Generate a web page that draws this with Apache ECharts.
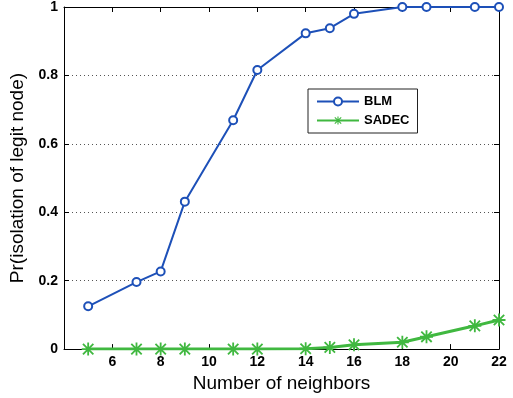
<!DOCTYPE html>
<html>
<head>
<meta charset="utf-8">
<script src="https://cdn.jsdelivr.net/npm/echarts@6/dist/echarts.min.js"></script>
<style>
  html, body { margin: 0; padding: 0; background: #ffffff; }
  #chart { width: 513px; height: 398px; }
</style>
</head>
<body>
<div id="chart"></div>
<script>
// Number of neighbors sampled
const neighbors = [5, 7, 8, 9, 11, 12, 14, 15, 16, 18, 19, 21, 22];
// Probability that a legitimate node is isolated
const blm   = [0.125, 0.196, 0.227, 0.431, 0.669, 0.816, 0.923, 0.938, 0.98, 1.0, 1.0, 1.0, 1.0];
const sadec = [0, 0, 0, 0, 0, 0, 0.001, 0.005, 0.0125, 0.02, 0.036, 0.068, 0.085];
const xTicks = [6, 8, 10, 12, 14, 16, 18, 20, 22];
const yTicks = [0, 0.2, 0.4, 0.6, 0.8, 1];

const pairs = (xs, ys) => xs.map((x, i) => [x, ys[i]]);

// asterisk marker: plus and cross bars
const asterisk = 'path://M4.3 0L5.7 0L5.7 10L4.3 10Z M0 4.3L10 4.3L10 5.7L0 5.7Z ' +
  'M0.5 1.5L1.5 0.5L9.5 8.5L8.5 9.5Z M8.5 0.5L9.5 1.5L1.5 9.5L0.5 8.5Z';

const family = 'Liberation Sans, Arial, sans-serif';
const tickFont = { fontFamily: family, fontWeight: 'bold', fontSize: 14, color: '#000' };

const chart = echarts.init(document.getElementById('chart'));
chart.setOption({
  animation: false,
  backgroundColor: '#ffffff',
  grid: { left: 64, right: 14, top: 7, bottom: 48, show: false },
  legend: {
    left: 308, top: 89, orient: 'vertical',
    width: 103,
    padding: [6, 8, 6, 8],
    itemGap: 6,
    itemWidth: 42, itemHeight: 10,
    borderColor: '#222', borderWidth: 1,
    backgroundColor: '#ffffff',
    textStyle: { fontFamily: family, fontWeight: 'bold', fontSize: 13, color: '#000' },
    data: ['BLM', 'SADEC']
  },
  xAxis: [{
    type: 'value', min: 4, max: 22, interval: 2,
    name: 'Number of neighbors', nameLocation: 'middle', nameGap: 23,
    nameTextStyle: { fontFamily: family, fontSize: 19, color: '#000' },
    axisLine: { show: true, onZero: false, lineStyle: { color: '#000', width: 1 } },
    axisTick: { show: true, inside: true, length: 5, lineStyle: { color: '#000' } },
    axisLabel: Object.assign({ margin: 6, formatter: v => xTicks.includes(v) ? String(v) : '' }, tickFont),
    splitLine: { show: false }
  }, {
    type: 'value', min: 4, max: 22, interval: 2, position: 'top',
    axisLine: { show: true, onZero: false, lineStyle: { color: '#000', width: 1 } },
    axisTick: { show: true, inside: true, length: 5, lineStyle: { color: '#000' } },
    axisLabel: { show: false },
    splitLine: { show: false }
  }],
  yAxis: [{
    type: 'value', min: 0, max: 1, interval: 0.2,
    name: 'Pr(isolation of legit node)', nameLocation: 'middle', nameGap: 25,
    nameTextStyle: { fontFamily: family, fontSize: 19, color: '#000' },
    axisLine: { show: true, onZero: false, lineStyle: { color: '#000', width: 1 } },
    axisTick: { show: true, inside: true, length: 5, lineStyle: { color: '#000' } },
    axisLabel: Object.assign({ margin: 6, formatter: v => {
      const t = yTicks.find(y => Math.abs(y - v) < 1e-9);
      return t === undefined ? '' : String(t);
    } }, tickFont),
    splitLine: { show: true, lineStyle: { color: '#555', type: [1, 3], width: 1 } }
  }, {
    type: 'value', min: 0, max: 1, interval: 0.2, position: 'right',
    axisLine: { show: true, onZero: false, lineStyle: { color: '#000', width: 1 } },
    axisTick: { show: true, inside: true, length: 5, lineStyle: { color: '#000' } },
    axisLabel: { show: false },
    splitLine: { show: false }
  }],
  series: [{
    name: 'BLM', type: 'line',
    data: pairs(neighbors, blm),
    symbol: 'emptyCircle', symbolSize: 8,
    lineStyle: { color: '#1d50b8', width: 2 },
    itemStyle: { color: '#1d50b8', borderColor: '#1d50b8', borderWidth: 1.6 },
    z: 3
  }, {
    name: 'SADEC', type: 'line',
    data: pairs(neighbors, sadec),
    symbol: asterisk, symbolSize: 13,
    lineStyle: { color: '#40b840', width: 3 },
    itemStyle: { color: '#40b840' },
    z: 4
  }]
});
</script>
</body>
</html>
